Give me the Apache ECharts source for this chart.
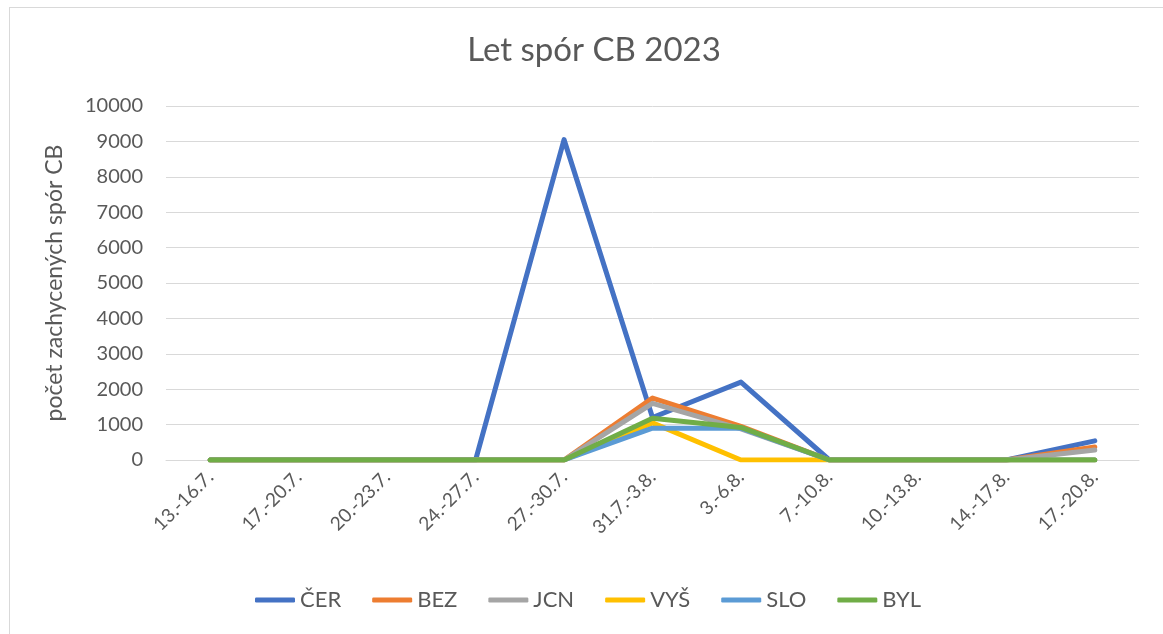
<!DOCTYPE html>
<html>
<head>
<meta charset="utf-8">
<script src="https://cdn.jsdelivr.net/npm/echarts@6/dist/echarts.min.js"></script>
<style>
  html, body { margin: 0; padding: 0; background: #fff; }
  #frame {
    position: absolute; left: 9px; top: 7px; width: 1200px; height: 700px;
    border-left: 1px solid #d9d9d9; border-top: 1px solid #d9d9d9;
  }
  #chart { position: absolute; left: 0; top: 0; width: 1163px; height: 634px; }
</style>
</head>
<body>
<div id="frame"></div>
<div id="chart"></div>
<script>
  // období odchytu
  var categories = ["13.-16.7.", "17.-20.7.", "20.-23.7.", "24.-27.7.", "27.-30.7.",
    "31.7.-3.8.", "3.-6.8.", "7.-10.8.", "10.-13.8.", "14.-17.8.", "17.-20.8."];

  var cer = [0, 0, 0, 0, 9050, 1200, 2200, 0, 0, 0, 540];
  var bez = [0, 0, 0, 0, 0, 1750, 950, 0, 0, 0, 370];
  var jcn = [0, 0, 0, 0, 0, 1600, 880, 0, 0, 0, 280];
  var vys = [0, 0, 0, 0, 0, 1050, 0, 0, 0, 0, 0];
  var slo = [0, 0, 0, 0, 0, 900, 900, 0, 0, 0, 0];
  var byl = [0, 0, 0, 0, 0, 1180, 920, 0, 0, 0, 0];

  var seriesNames = ["ČER", "BEZ", "JCN", "VYŠ", "SLO", "BYL"];
  var seriesData = [cer, bez, jcn, vys, slo, byl];
  var colors = ["#4472C4", "#ED7D31", "#A5A5A5", "#FFC000", "#5B9BD5", "#70AD47"];

  var font = "Lato, 'Open Sans', sans-serif";
  var textColor = "#595959";

  var chart = echarts.init(document.getElementById("chart"));
  chart.setOption({
    animation: false,
    color: colors,
    title: {
      text: "Let spór CB 2023",
      left: 589, top: 29, textAlign: "center",
      textStyle: { fontFamily: font, fontSize: 33, fontWeight: "normal", color: textColor }
    },
    legend: {
      bottom: 18, left: 250,
      icon: "roundRect", itemWidth: 40, itemHeight: 5, itemGap: 31,
      textStyle: { fontFamily: font, fontSize: 22, color: textColor },
      data: seriesNames
    },
    grid: { left: 166, right: 24, top: 106, bottom: 174 },
    xAxis: {
      type: "category",
      data: categories,
      boundaryGap: true,
      axisLine: { lineStyle: { color: "#d9d9d9", width: 1 } },
      axisTick: { show: false },
      axisLabel: { rotate: 45, margin: 14, fontFamily: font, fontSize: 19, color: textColor, interval: 0 }
    },
    yAxis: {
      type: "value",
      min: 0, max: 10000, interval: 1000,
      name: "počet zachycených spór CB",
      nameLocation: "middle", nameGap: 100,
      nameTextStyle: { fontFamily: font, fontSize: 23, color: textColor },
      axisLine: { show: false },
      axisTick: { show: false },
      axisLabel: {
        margin: 23, fontFamily: font, fontSize: 20, color: textColor,
        formatter: function (v) { return String(v); }
      },
      splitLine: { lineStyle: { color: "#d9d9d9", width: 1 } }
    },
    series: seriesData.map(function (d, i) {
      return {
        name: seriesNames[i],
        type: "line",
        data: d,
        symbol: "none",
        lineStyle: { width: 5, cap: "round", join: "round" }
      };
    })
  });
</script>
</body>
</html>
